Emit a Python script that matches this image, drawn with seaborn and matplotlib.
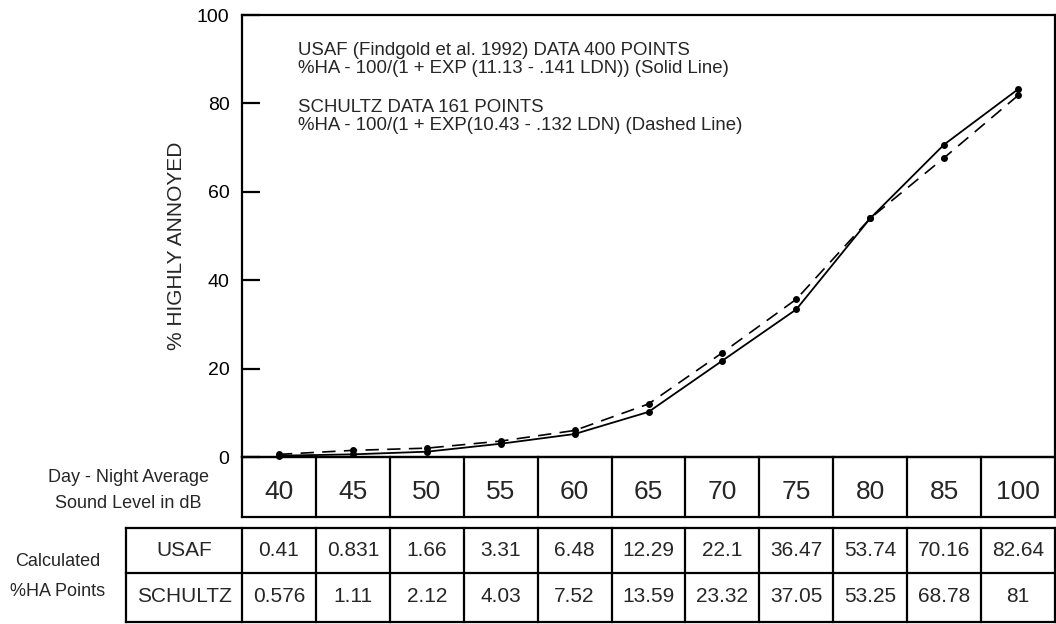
import numpy as np
import pandas as pd
import matplotlib
matplotlib.use("Agg")
import matplotlib.pyplot as plt
import seaborn as sns

# ---------------- data ----------------
ldn_labels = ["40", "45", "50", "55", "60", "65", "70", "75", "80", "85", "100"]
# plotted curve values (% highly annoyed)
usaf_curve = [0.3, 0.6, 1.2, 3.0, 5.2, 10.2, 21.8, 33.4, 54.0, 70.7, 83.2]
schultz_curve = [0.6, 1.5, 2.0, 3.6, 6.0, 12.0, 23.6, 35.7, 54.0, 67.7, 81.8]
# calculated values printed in the table
usaf_table = ["0.41", "0.831", "1.66", "3.31", "6.48", "12.29", "22.1", "36.47", "53.74", "70.16", "82.64"]
schultz_table = ["0.576", "1.11", "2.12", "4.03", "7.52", "13.59", "23.32", "37.05", "53.25", "68.78", "81"]
series_names = ["USAF", "SCHULTZ"]
y_ticks = [0, 20, 40, 60, 80, 100]
note_lines = [
    "USAF (Findgold et al. 1992) DATA 400 POINTS",
    "%HA - 100/(1 + EXP (11.13 - .141 LDN)) (Solid Line)",
    "SCHULTZ DATA 161 POINTS",
    "%HA - 100/(1 + EXP(10.43 - .132 LDN) (Dashed Line)",
]
y_label = "% HIGHLY ANNOYED"
x_caption = ["Day - Night Average", "Sound Level in dB"]
table_caption = ["Calculated", "%HA Points"]

# ---------------- style ----------------
sns.set_style("white")
plt.rcParams["font.family"] = ["Liberation Sans", "DejaVu Sans"]

W, H = 1056, 624
fig = plt.figure(figsize=(W / 100, H / 100), dpi=100)
X0, X1 = 242, 1055          # plot left / right (px)
Y_TOP, Y_ZERO = 15, 457     # plot top / zero line (px)
n = len(ldn_labels)
colw = (X1 - X0) / n
ax = fig.add_axes([X0 / W, 1 - Y_ZERO / H, (X1 - X0) / W, (Y_ZERO - Y_TOP) / H])

df = pd.DataFrame({"pos": np.arange(n), series_names[0]: usaf_curve, series_names[1]: schultz_curve})
sns.lineplot(data=df, x="pos", y=series_names[0], ax=ax, color="black", lw=1.3,
             marker="o", markersize=5, markeredgewidth=0, clip_on=False)
sns.lineplot(data=df, x="pos", y=series_names[1], ax=ax, color="black", lw=1.2,
             linestyle=(0, (8, 5)), marker="o", markersize=5, markeredgewidth=0, clip_on=False)

ax.set_xlim(-0.5, n - 0.5)
ax.set_ylim(0, 100)
ax.set_xticks([])
ax.set_yticks(y_ticks)
ax.tick_params(axis="y", direction="in", length=13, width=1.6, pad=9, labelsize=14,
               left=True, colors="black")
for s in ax.spines.values():
    s.set_visible(True)
    s.set_linewidth(1.6)
    s.set_color("black")
ax.set_xlabel("")
ax.set_ylabel(y_label, fontsize=15)
ax.yaxis.set_label_coords((186 - X0) / (X1 - X0), (Y_ZERO - 246) / (Y_ZERO - Y_TOP))

note_y = [55, 73, 112, 130]
for txt, yp in zip(note_lines, note_y):
    ax.text((298 - X0) / (X1 - X0), (Y_ZERO - yp) / (Y_ZERO - Y_TOP), txt,
            transform=ax.transAxes, fontsize=13.4, va="baseline", ha="left")

# ---------------- tables (pixel overlay) ----------------
tab = fig.add_axes([0, 0, 1, 1])
tab.set_xlim(0, W)
tab.set_ylim(H, 0)
tab.axis("off")
tab.patch.set_alpha(0)
LW = 1.6

def hline(y, xa, xb):
    tab.plot([xa, xb], [y, y], color="black", lw=LW, solid_capstyle="projecting")

def vline(x, ya, yb):
    tab.plot([x, x], [ya, yb], color="black", lw=LW, solid_capstyle="projecting")

bounds = [X0 + k * colw for k in range(n + 1)]
centers = [X0 + (k + 0.5) * colw for k in range(n)]

# header row with LDN values
HT, HB = Y_ZERO, 517
hline(HT, X0, X1)
hline(HB, X0, X1)
for b in bounds:
    vline(b, HT, HB)
for c, lab in zip(centers, ldn_labels):
    tab.text(c, 492, lab, fontsize=19, ha="center", va="center")

# calculated values table
TT, TM, TB = 528, 573, 622
TL = 126
hline(TT, TL, X1)
hline(TM, TL, X1)
hline(TB, TL, X1)
vline(TL, TT, TB)
for b in bounds:
    vline(b, TT, TB)
for name, yc in zip(series_names, [550, 597]):
    tab.text((TL + X0) / 2, yc, name, fontsize=15, ha="center", va="center")
for c, a, b in zip(centers, usaf_table, schultz_table):
    tab.text(c, 550, a, fontsize=15, ha="center", va="center")
    tab.text(c, 597, b, fontsize=15, ha="center", va="center")

tab.text(128, 478, x_caption[0], fontsize=13, ha="center", va="center")
tab.text(128, 503, x_caption[1], fontsize=13, ha="center", va="center")
tab.text(58, 562, table_caption[0], fontsize=13, ha="center", va="center")
tab.text(58, 592, table_caption[1], fontsize=13, ha="center", va="center")

fig.savefig("out.png", dpi=100)
